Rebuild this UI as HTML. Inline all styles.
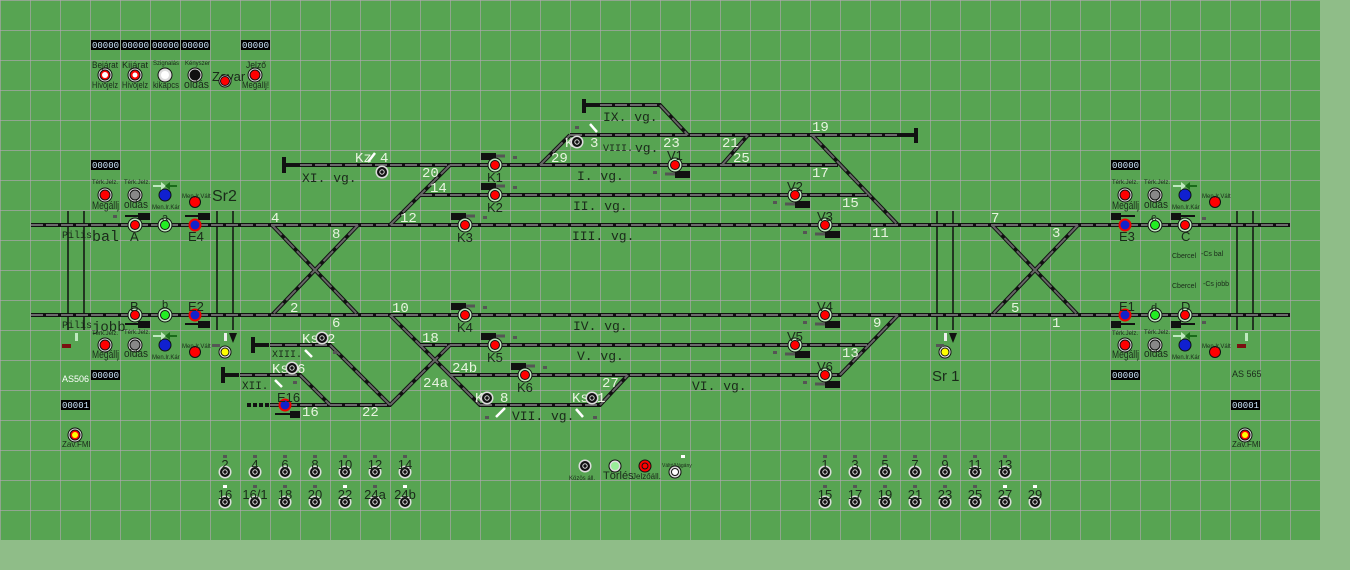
<!DOCTYPE html>
<html><head><meta charset="utf-8"><style>
html,body{margin:0;padding:0;background:#8fbd88;}
svg{display:block}
.t{stroke:#111;stroke-width:4;fill:none}
.d{stroke:#6a6a6a;stroke-width:2;stroke-dasharray:12 3;fill:none}
.dg{stroke:#666;stroke-width:2;fill:none;stroke-dasharray:14 4}
.n{font-family:"Liberation Mono",monospace;font-size:14px;fill:#e8f4e0}
.v{font-family:"Liberation Mono",monospace;font-size:13px;fill:#1a2a1a}
.s{font-family:"Liberation Sans",sans-serif;font-size:13px;fill:#1a2a1a}
.xs{font-family:"Liberation Sans",sans-serif;font-size:6px;fill:#1a2a1a}
.sm{font-family:"Liberation Sans",sans-serif;font-size:9px;fill:#1a2a1a}
.bx{font-family:"Liberation Mono",monospace;font-size:9px;fill:#cfe8ff}
</style></head><body>
<svg width="1350" height="570" viewBox="0 0 1350 570" xmlns="http://www.w3.org/2000/svg">
<defs>
<pattern id="g" width="30" height="30" patternUnits="userSpaceOnUse">
<rect width="30" height="30" fill="#57a452"/>
<path d="M0 0H30M0 0V30" stroke="#b4a8b4" stroke-width="1.2"/>
</pattern>
<g id="btnB"><circle r="6.5" fill="#ddd"/><circle r="5" fill="#111"/><circle r="2.2" fill="none" stroke="#ddd" stroke-width="1"/></g>
</defs>
<rect width="1320" height="540" fill="url(#g)"/>

<g stroke="#111" stroke-width="1.5">
<line x1="68" y1="211" x2="68" y2="330"/><line x1="84" y1="211" x2="84" y2="330"/>
<line x1="217" y1="211" x2="217" y2="330"/><line x1="233" y1="211" x2="233" y2="330"/>
<line x1="937" y1="211" x2="937" y2="330"/><line x1="953" y1="211" x2="953" y2="330"/>
<line x1="1237" y1="211" x2="1237" y2="330"/><line x1="1253" y1="211" x2="1253" y2="330"/>
</g>

<g id="trk">
<path class="t" d="M31 225H1290M31 315H1290
M300 165H838M420 195H868M570 135H917M600 105H660L688 135
M272 225L358 315M358 225L272 315M992 225L1078 315M1078 225L992 315
M390 225L450 165M540 165L570 135M722 165L748 135M812 135L898 225
M270 345H330L390 405M240 375H300L330 405M270 405H390L450 345 M390 315L450 375H840L898 315
M420 345H870M450 375L480 405H600L628 375"/>
<path class="d" d="M31 225H1290M31 315H1290
M300 165H838M420 195H868M570 135H917M600 105H660
M270 345H330M240 375H300M270 405H390M420 345H870M450 375H840M480 405H600"/>
<path class="dg" d="M272 225L358 315M358 225L272 315M992 225L1078 315M1078 225L992 315
M390 225L450 165M812 135L898 225M390 315L450 375M330 345L390 405M300 375L330 405M390 405L450 345M450 375L480 405M600 405L628 375M840 375L898 315M660 105L688 135M540 165L570 135M722 165L748 135"/>
</g>
<g fill="#111">
<rect x="282" y="157" width="4" height="16"/><rect x="282" y="163" width="18" height="4"/>
<rect x="582" y="99" width="4" height="14"/><rect x="582" y="103" width="18" height="4"/>
<rect x="914" y="128" width="4" height="15"/><rect x="900" y="133" width="17" height="4"/>
<rect x="251" y="337" width="4" height="16"/><rect x="251" y="343" width="18" height="4"/>
<rect x="221" y="367" width="4" height="16"/><rect x="221" y="373" width="18" height="4"/>
<rect x="247" y="403" width="4" height="4"/><rect x="253" y="403" width="4" height="4"/><rect x="259" y="403" width="4" height="4"/><rect x="265" y="403" width="4" height="4"/>
</g>
<g stroke="#fff" stroke-width="2.5">
<line x1="590" y1="124" x2="597" y2="132"/><line x1="305" y1="350" x2="312" y2="357"/>
<line x1="275" y1="380" x2="282" y2="387"/><line x1="496" y1="417" x2="505" y2="408"/>
<line x1="375" y1="153" x2="368" y2="162"/><line x1="576" y1="409" x2="583" y2="417"/>
</g>

<g class="n">
<text x="271" y="222">4</text><text x="332" y="238">8</text><text x="290" y="312">2</text><text x="332" y="327">6</text>
<text x="400" y="222">12</text><text x="430" y="192">14</text><text x="422" y="177">20</text>
<text x="392" y="312">10</text><text x="422" y="342">18</text><text x="423" y="387">24a</text><text x="452" y="372">24b</text>
<text x="302" y="416">16</text><text x="362" y="416">22</text>
<text x="551" y="162">29</text><text x="663" y="147">23</text><text x="722" y="147">21</text><text x="733" y="162">25</text>
<text x="812" y="131">19</text><text x="812" y="177">17</text><text x="842" y="207">15</text><text x="872" y="237">11</text>
<text x="602" y="387">27</text><text x="873" y="327">9</text><text x="842" y="357">13</text>
<text x="991" y="222">7</text><text x="1052" y="237">3</text><text x="1011" y="312">5</text><text x="1052" y="327">1</text>
<text x="355" y="162">Kz</text><text x="380" y="162">4</text>
<text x="565" y="147">K</text><text x="590" y="147">3</text>
<text x="302" y="343">Ks</text><text x="327" y="343">2</text>
<text x="272" y="373">Ks</text><text x="297" y="373">6</text>
<text x="475" y="402">K</text><text x="500" y="402">8</text>
<text x="572" y="402">Ks</text><text x="597" y="402">1</text>
</g>
<g class="v">
<text x="302" y="182">XI. vg.</text><text x="603" y="121">IX. vg.</text><text x="603" y="151" style="font-size:10px">VIII.</text><text x="635" y="152">vg.</text>
<text x="577" y="180">I.  vg.</text><text x="573" y="210">II. vg.</text><text x="572" y="240">III. vg.</text>
<text x="573" y="330">IV. vg.</text><text x="577" y="360">V.  vg.</text><text x="692" y="390">VI. vg.</text><text x="512" y="420">VII. vg.</text>
<text x="272" y="357" style="font-size:10px">XIII.</text><text x="242" y="389" style="font-size:11px">XII.</text>
<text x="62" y="238" style="font-size:10px">Pilis</text><text x="92" y="241" style="font-size:15px">bal</text>
<text x="62" y="328" style="font-size:10px">Pilis</text><text x="92" y="331" style="font-size:14px">jobb</text>
</g>
<use href="#btnB" x="382" y="172"/><use href="#btnB" x="577" y="142"/><use href="#btnB" x="322" y="338"/>
<use href="#btnB" x="292" y="368"/><use href="#btnB" x="487" y="398"/><use href="#btnB" x="592" y="398"/>

<g fill="#111">
<rect x="481" y="153" width="15" height="7"/><rect x="481" y="183" width="15" height="7"/><rect x="451" y="213" width="15" height="7"/>
<rect x="451" y="303" width="15" height="7"/><rect x="481" y="333" width="15" height="7"/><rect x="511" y="363" width="15" height="7"/>
<rect x="675" y="171" width="15" height="7"/><rect x="795" y="201" width="15" height="7"/><rect x="825" y="231" width="15" height="7"/>
<rect x="825" y="321" width="15" height="7"/><rect x="795" y="351" width="15" height="7"/><rect x="825" y="381" width="15" height="7"/>
<rect x="138" y="213" width="12" height="7"/><rect x="198" y="213" width="12" height="7"/><rect x="138" y="321" width="12" height="7"/><rect x="198" y="321" width="12" height="7"/>
<rect x="1111" y="213" width="10" height="7"/><rect x="1171" y="213" width="10" height="7"/><rect x="1111" y="321" width="10" height="7"/><rect x="1171" y="321" width="10" height="7"/>
<rect x="290" y="411" width="10" height="7"/>
</g>
<g stroke="#555" stroke-width="3">
<line x1="496" y1="156" x2="505" y2="156"/><line x1="496" y1="186" x2="505" y2="186"/><line x1="466" y1="216" x2="475" y2="216"/>
<line x1="466" y1="306" x2="475" y2="306"/><line x1="496" y1="336" x2="505" y2="336"/><line x1="526" y1="366" x2="535" y2="366"/>
<line x1="665" y1="174" x2="675" y2="174"/><line x1="785" y1="204" x2="795" y2="204"/><line x1="815" y1="234" x2="825" y2="234"/>
<line x1="815" y1="324" x2="825" y2="324"/><line x1="785" y1="354" x2="795" y2="354"/><line x1="815" y1="384" x2="825" y2="384"/>
</g>
<g stroke="#111" stroke-width="2">
<line x1="125" y1="216" x2="138" y2="216"/><line x1="185" y1="216" x2="198" y2="216"/><line x1="125" y1="324" x2="138" y2="324"/><line x1="185" y1="324" x2="198" y2="324"/>
<line x1="1121" y1="216" x2="1135" y2="216"/><line x1="1181" y1="216" x2="1195" y2="216"/><line x1="1121" y1="324" x2="1135" y2="324"/><line x1="1181" y1="324" x2="1195" y2="324"/>
<line x1="275" y1="414" x2="290" y2="414"/>
</g>

<g stroke="#111" stroke-width="1">
<g fill="#bfe8bf">
<circle cx="495" cy="165" r="7"/><circle cx="495" cy="195" r="7"/><circle cx="465" cy="225" r="7"/><circle cx="465" cy="315" r="7"/>
<circle cx="495" cy="345" r="7"/><circle cx="525" cy="375" r="7"/><circle cx="675" cy="165" r="7"/><circle cx="795" cy="195" r="7"/>
<circle cx="825" cy="225" r="7"/><circle cx="825" cy="315" r="7"/><circle cx="795" cy="345" r="7"/><circle cx="825" cy="375" r="7"/>
<circle cx="135" cy="225" r="7"/><circle cx="135" cy="315" r="7"/><circle cx="1185" cy="225" r="7"/><circle cx="1185" cy="315" r="7"/>
<circle cx="165" cy="225" r="7"/><circle cx="165" cy="315" r="7"/><circle cx="1155" cy="225" r="7"/><circle cx="1155" cy="315" r="7"/>
</g>
<g fill="#f00">
<circle cx="495" cy="165" r="4.5"/><circle cx="495" cy="195" r="4.5"/><circle cx="465" cy="225" r="4.5"/><circle cx="465" cy="315" r="4.5"/>
<circle cx="495" cy="345" r="4.5"/><circle cx="525" cy="375" r="4.5"/><circle cx="675" cy="165" r="4.5"/><circle cx="795" cy="195" r="4.5"/>
<circle cx="825" cy="225" r="4.5"/><circle cx="825" cy="315" r="4.5"/><circle cx="795" cy="345" r="4.5"/><circle cx="825" cy="375" r="4.5"/>
<circle cx="135" cy="225" r="4.5"/><circle cx="135" cy="315" r="4.5"/><circle cx="1185" cy="225" r="4.5"/><circle cx="1185" cy="315" r="4.5"/>
</g>
<g fill="#2e2"><circle cx="165" cy="225" r="4.5"/><circle cx="165" cy="315" r="4.5"/><circle cx="1155" cy="225" r="4.5"/><circle cx="1155" cy="315" r="4.5"/></g>
<g fill="#12c" stroke="#e00" stroke-width="2">
<circle cx="195" cy="225" r="5.5"/><circle cx="195" cy="315" r="5.5"/><circle cx="1125" cy="225" r="5.5"/><circle cx="1125" cy="315" r="5.5"/><circle cx="285" cy="405" r="5.5"/>
</g>
</g>
<g class="s">
<text x="487" y="182">K1</text><text x="487" y="212">K2</text><text x="457" y="242">K3</text><text x="457" y="332">K4</text>
<text x="487" y="362">K5</text><text x="517" y="392">K6</text><text x="667" y="160">V1</text><text x="787" y="191">V2</text>
<text x="817" y="221">V3</text><text x="817" y="311">V4</text><text x="787" y="341">V5</text><text x="817" y="371">V6</text>
<text x="130" y="241">A</text><text x="162" y="221" style="font-size:11px">a</text><text x="188" y="241">E4</text>
<text x="130" y="311">B</text><text x="162" y="308" style="font-size:11px">b</text><text x="188" y="311">E2</text>
<text x="277" y="402">E16</text>
<text x="1119" y="241">E3</text><text x="1151" y="221" style="font-size:11px">c</text><text x="1181" y="241">C</text>
<text x="1119" y="311">E1</text><text x="1151" y="311" style="font-size:11px">d</text><text x="1181" y="311">D</text>
<text x="212" y="201" style="font-size:16px">Sr2</text><text x="932" y="381" style="font-size:15px">Sr 1</text>
<text x="212" y="81" style="font-size:13px">Zavar</text>
</g>

<g stroke="#111">
<circle cx="225" cy="352" r="6" fill="#eee"/><circle cx="225" cy="352" r="4" fill="#ff0"/>
<circle cx="945" cy="352" r="6" fill="#eee"/><circle cx="945" cy="352" r="4" fill="#ff0"/>
</g>
<g fill="#eee"><rect x="224" y="333" width="3" height="8"/><rect x="944" y="333" width="3" height="8"/></g>
<path d="M229 333h8l-4 10z M949 333h8l-4 10z" fill="#111"/>

<g fill="#000">
<rect x="91" y="40" width="29" height="10"/><rect x="121" y="40" width="29" height="10"/><rect x="151" y="40" width="29" height="10"/><rect x="181" y="40" width="29" height="10"/><rect x="241" y="40" width="29" height="10"/>
<rect x="91" y="160" width="29" height="10"/><rect x="91" y="370" width="29" height="10"/><rect x="61" y="400" width="29" height="10"/>
<rect x="1111" y="160" width="29" height="10"/><rect x="1111" y="370" width="29" height="10"/><rect x="1231" y="400" width="29" height="10"/>
</g>
<g class="bx">
<text x="92" y="48">00000</text><text x="122" y="48">00000</text><text x="152" y="48">00000</text><text x="182" y="48">00000</text><text x="242" y="48">00000</text>
<text x="92" y="168">00000</text><text x="92" y="378">00000</text><text x="62" y="408">00001</text>
<text x="1112" y="168">00000</text><text x="1112" y="378">00000</text><text x="1232" y="408">00001</text>
</g>

<g stroke="#111" stroke-width="1">
<g fill="#ddd">
<circle cx="105" cy="75" r="7"/><circle cx="135" cy="75" r="7"/><circle cx="165" cy="75" r="7"/><circle cx="195" cy="75" r="7"/><circle cx="225" cy="81" r="6"/><circle cx="255" cy="75" r="7"/>
<circle cx="105" cy="195" r="7"/><circle cx="135" cy="195" r="7"/><circle cx="105" cy="345" r="7"/><circle cx="135" cy="345" r="7"/>
<circle cx="1125" cy="195" r="7"/><circle cx="1155" cy="195" r="7"/><circle cx="1125" cy="345" r="7"/><circle cx="1155" cy="345" r="7"/>
<circle cx="75" cy="435" r="7"/><circle cx="1245" cy="435" r="7"/>
</g>
<g fill="#f00"><circle cx="105" cy="75" r="5"/><circle cx="135" cy="75" r="5"/><circle cx="255" cy="75" r="5"/><circle cx="75" cy="435" r="5"/><circle cx="1245" cy="435" r="5"/>
<circle cx="105" cy="195" r="5"/><circle cx="105" cy="345" r="5"/><circle cx="1125" cy="195" r="5"/><circle cx="1125" cy="345" r="5"/>
<circle cx="195" cy="202" r="5.5"/><circle cx="195" cy="352" r="5.5"/><circle cx="1215" cy="202" r="5.5"/><circle cx="1215" cy="352" r="5.5"/></g>
<g fill="#111"><circle cx="195" cy="75" r="5"/><circle cx="225" cy="81" r="4.5" fill="#f00"/></g>
<g fill="#888"><circle cx="135" cy="195" r="5"/><circle cx="135" cy="345" r="5"/><circle cx="1155" cy="195" r="5"/><circle cx="1155" cy="345" r="5"/></g>
<g fill="#1020d0"><circle cx="165" cy="195" r="6"/><circle cx="165" cy="345" r="6"/><circle cx="1185" cy="195" r="6"/><circle cx="1185" cy="345" r="6"/></g>
</g>
<g fill="#fff"><circle cx="105" cy="75" r="3"/><circle cx="135" cy="75" r="2.5"/><circle cx="165" cy="75" r="4"/><circle cx="75" cy="435" r="3" fill="#ff0"/><circle cx="1245" cy="435" r="3" fill="#ff0"/></g>
<g class="sm">
<text x="92" y="68" textLength="26" lengthAdjust="spacingAndGlyphs">Bejárat</text><text x="122" y="68" textLength="26" lengthAdjust="spacingAndGlyphs">Kijárat</text><text x="185" y="65" class="xs">Kényszer</text><text x="153" y="65" class="xs">Szignalás</text><text x="246" y="68" textLength="20" lengthAdjust="spacingAndGlyphs">Jelző</text>
<text x="92" y="88" textLength="26" lengthAdjust="spacingAndGlyphs">Hívójelz</text><text x="122" y="88" textLength="26" lengthAdjust="spacingAndGlyphs">Hívójelz</text><text x="153" y="88" textLength="26" lengthAdjust="spacingAndGlyphs">kikapcs</text><text x="184" y="88" style="font-size:11px" textLength="25" lengthAdjust="spacingAndGlyphs">oldás</text><text x="242" y="88" textLength="27" lengthAdjust="spacingAndGlyphs">Megállj!</text>
<text x="92" y="209" style="font-size:11px" textLength="27" lengthAdjust="spacingAndGlyphs">Megállj</text><text x="124" y="208" style="font-size:11px" textLength="24" lengthAdjust="spacingAndGlyphs">oldás</text>
<text x="92" y="358" style="font-size:11px" textLength="27" lengthAdjust="spacingAndGlyphs">Megállj</text><text x="124" y="357" style="font-size:11px" textLength="24" lengthAdjust="spacingAndGlyphs">oldás</text>
<text x="1112" y="209" style="font-size:11px" textLength="27" lengthAdjust="spacingAndGlyphs">Megállj</text><text x="1144" y="208" style="font-size:11px" textLength="24" lengthAdjust="spacingAndGlyphs">oldás</text>
<text x="1112" y="358" style="font-size:11px" textLength="27" lengthAdjust="spacingAndGlyphs">Megállj</text><text x="1144" y="357" style="font-size:11px" textLength="24" lengthAdjust="spacingAndGlyphs">oldás</text>
<text x="62" y="382" style="fill:#fff">AS506</text><text x="1232" y="377">AS 565</text>
<text x="62" y="447" style="font-size:8px">Zav.FMI</text><text x="1232" y="447" style="font-size:8px">Zav.FMI</text>
<text x="1172" y="258" style="font-size:7px">Cbercel</text><text x="1201" y="256" style="font-size:7px">-Cs bal</text>
<text x="1172" y="288" style="font-size:7px">Cbercel</text><text x="1203" y="286" style="font-size:7px">-Cs jobb</text>
<text x="569" y="480" style="font-size:6px">Közös áll.</text><text x="603" y="479" style="font-size:11px">Törlés</text><text x="632" y="479" style="font-size:8px">Jelzőáll.</text><text x="662" y="467" style="font-size:5px">Váltó/Vágány</text>
</g>
<g class="xs">
<text x="92" y="184">Térk.Jelz.</text><text x="124" y="184">Térk.Jelz.</text><text x="152" y="209">Men.Ir.Kár</text><text x="182" y="198">Men.Ir.Vált</text>
<text x="92" y="335">Térk.Jelz.</text><text x="124" y="334">Térk.Jelz.</text><text x="152" y="359">Men.Ir.Kár</text><text x="182" y="348">Men.Ir.Vált</text>
<text x="1112" y="184">Térk.Jelz.</text><text x="1144" y="184">Térk.Jelz.</text><text x="1172" y="209">Men.Ir.Kár</text><text x="1202" y="198">Men.Ir.Vált</text>
<text x="1112" y="335">Térk.Jelz.</text><text x="1144" y="334">Térk.Jelz.</text><text x="1172" y="359">Men.Ir.Kár</text><text x="1202" y="348">Men.Ir.Vált</text>
</g>
<g>
<path d="M153 185h8v-3l5 4-5 4v-3h-8z M1173 185h8v-3l5 4-5 4v-3h-8z M153 335h8v-3l5 4-5 4v-3h-8z M1173 335h8v-3l5 4-5 4v-3h-8z" fill="#bfe8bf"/>
<path d="M177 185h-7v-3l-5 4 5 4v-3h7z M1197 185h-7v-3l-5 4 5 4v-3h7z M177 335h-7v-3l-5 4 5 4v-3h7z M1197 335h-7v-3l-5 4 5 4v-3h7z" fill="#1a6a1a"/>
</g>
<g fill="#7a1010"><rect x="62" y="344" width="9" height="4"/><rect x="1237" y="344" width="9" height="4"/></g>
<g fill="#bfe8bf"><rect x="75" y="333" width="3" height="8"/><rect x="1245" y="333" width="3" height="8"/></g>

<g id="bb">
<use href="#btnB" x="225" y="472"/><use href="#btnB" x="255" y="472"/><use href="#btnB" x="285" y="472"/><use href="#btnB" x="315" y="472"/><use href="#btnB" x="345" y="472"/><use href="#btnB" x="375" y="472"/><use href="#btnB" x="405" y="472"/>
<use href="#btnB" x="225" y="502"/><use href="#btnB" x="255" y="502"/><use href="#btnB" x="285" y="502"/><use href="#btnB" x="315" y="502"/><use href="#btnB" x="345" y="502"/><use href="#btnB" x="375" y="502"/><use href="#btnB" x="405" y="502"/>
<use href="#btnB" x="825" y="472"/><use href="#btnB" x="855" y="472"/><use href="#btnB" x="885" y="472"/><use href="#btnB" x="915" y="472"/><use href="#btnB" x="945" y="472"/><use href="#btnB" x="975" y="472"/><use href="#btnB" x="1005" y="472"/>
<use href="#btnB" x="825" y="502"/><use href="#btnB" x="855" y="502"/><use href="#btnB" x="885" y="502"/><use href="#btnB" x="915" y="502"/><use href="#btnB" x="945" y="502"/><use href="#btnB" x="975" y="502"/><use href="#btnB" x="1005" y="502"/><use href="#btnB" x="1035" y="502"/>
<use href="#btnB" x="585" y="466"/>
</g>
<circle cx="615" cy="466" r="6" fill="#ddd" stroke="#111"/><circle cx="615" cy="466" r="4" fill="#9e9"/>
<circle cx="645" cy="466" r="6" fill="#f00" stroke="#111"/><circle cx="645" cy="466" r="3" fill="none" stroke="#111"/>
<circle cx="675" cy="472" r="6" fill="#ddd" stroke="#111"/><circle cx="675" cy="472" r="3.5" fill="#fff" stroke="#111"/>
<g class="s" style="font-size:13px" text-anchor="middle">
<text x="225" y="469">2</text><text x="255" y="469">4</text><text x="285" y="469">6</text><text x="315" y="469">8</text><text x="345" y="469">10</text><text x="375" y="469">12</text><text x="405" y="469">14</text>
<text x="225" y="499">16</text><text x="255" y="499">16/1</text><text x="285" y="499">18</text><text x="315" y="499">20</text><text x="345" y="499">22</text><text x="375" y="499">24a</text><text x="405" y="499">24b</text>
<text x="825" y="469">1</text><text x="855" y="469">3</text><text x="885" y="469">5</text><text x="915" y="469">7</text><text x="945" y="469">9</text><text x="975" y="469">11</text><text x="1005" y="469">13</text>
<text x="825" y="499">15</text><text x="855" y="499">17</text><text x="885" y="499">19</text><text x="915" y="499">21</text><text x="945" y="499">23</text><text x="975" y="499">25</text><text x="1005" y="499">27</text><text x="1035" y="499">29</text>
</g>
<g fill="#555">
<rect x="223" y="455" width="4" height="3"/><rect x="253" y="455" width="4" height="3"/><rect x="283" y="455" width="4" height="3"/><rect x="313" y="455" width="4" height="3"/><rect x="343" y="455" width="4" height="3"/><rect x="373" y="455" width="4" height="3"/><rect x="403" y="455" width="4" height="3"/>
<rect x="823" y="455" width="4" height="3"/><rect x="853" y="455" width="4" height="3"/><rect x="883" y="455" width="4" height="3"/><rect x="913" y="455" width="4" height="3"/><rect x="943" y="455" width="4" height="3"/><rect x="973" y="455" width="4" height="3"/><rect x="1003" y="455" width="4" height="3"/>
<rect x="823" y="485" width="4" height="3"/><rect x="853" y="485" width="4" height="3"/><rect x="883" y="485" width="4" height="3"/><rect x="913" y="485" width="4" height="3"/><rect x="943" y="485" width="4" height="3"/><rect x="973" y="485" width="4" height="3"/>
<rect x="253" y="485" width="4" height="3"/><rect x="283" y="485" width="4" height="3"/><rect x="313" y="485" width="4" height="3"/><rect x="373" y="485" width="4" height="3"/>
<rect x="513" y="156" width="4" height="3"/><rect x="513" y="186" width="4" height="3"/><rect x="483" y="216" width="4" height="3"/><rect x="483" y="306" width="4" height="3"/><rect x="513" y="336" width="4" height="3"/><rect x="543" y="366" width="4" height="3"/>
<rect x="653" y="171" width="4" height="3"/><rect x="773" y="201" width="4" height="3"/><rect x="803" y="231" width="4" height="3"/><rect x="803" y="321" width="4" height="3"/><rect x="773" y="351" width="4" height="3"/><rect x="803" y="381" width="4" height="3"/>
<rect x="575" y="126" width="4" height="3"/><rect x="333" y="351" width="4" height="3"/><rect x="293" y="381" width="4" height="3"/><rect x="485" y="416" width="4" height="3"/><rect x="593" y="416" width="4" height="3"/>
<rect x="113" y="215" width="4" height="3"/><rect x="1202" y="217" width="4" height="3"/><rect x="1202" y="321" width="4" height="3"/>
<rect x="212" y="344" width="8" height="3"/><rect x="936" y="344" width="8" height="3"/>
</g>
<g fill="#fff"><rect x="223" y="485" width="4" height="3"/><rect x="343" y="485" width="4" height="3"/><rect x="403" y="485" width="4" height="3"/><rect x="1003" y="485" width="4" height="3"/><rect x="1033" y="485" width="4" height="3"/><rect x="681" y="455" width="4" height="3"/></g>
</svg>
</body></html>
